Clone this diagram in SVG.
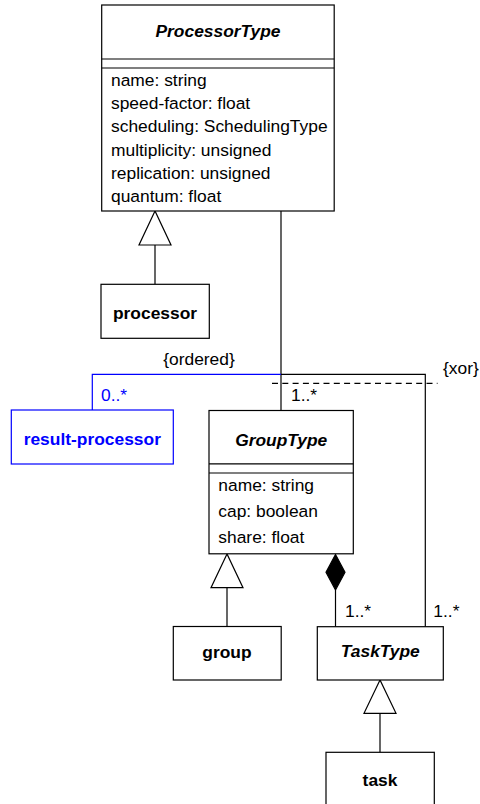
<svg xmlns="http://www.w3.org/2000/svg" width="480" height="804" viewBox="0 0 480 804">
<style>
  .box{fill:#fff;stroke:#000;stroke-width:1.2}
  .bbox{fill:#fff;stroke:#0000ff;stroke-width:1.2}
  .ln{fill:none;stroke:#000;stroke-width:1.2}
  .bln{fill:none;stroke:#0000ff;stroke-width:1.2}
  .dash{fill:none;stroke:#000;stroke-width:1.2;stroke-dasharray:6 4.3}
  .tri{fill:#fff;stroke:#000;stroke-width:1.2}
  .dia{fill:#000;stroke:#000;stroke-width:1.2}
  text{font-family:"Liberation Sans",Arial,sans-serif;font-size:17.4px;fill:#000}
  .title{font-weight:bold;font-style:italic;text-anchor:middle}
  .name{font-weight:bold;text-anchor:middle}
  .blue{fill:#0000ff}
</style>
<rect width="480" height="804" fill="#fff"/>
<g id="connectors">
  <!-- generalization processor -> ProcessorType -->
  <line class="ln" x1="155" y1="245" x2="155" y2="284"/>
  <polygon class="tri" points="155,211 139,245 171,245"/>
  <!-- ProcessorType to GroupType -->
  <line class="ln" x1="281" y1="211" x2="281" y2="410"/>
  <!-- result-processor association -->
  <polyline class="bln" points="281,374.3 92.3,374.3 92.3,410"/>
  <!-- ProcessorType to TaskType -->
  <polyline class="ln" points="281,374.3 425.3,374.3 425.3,626.7"/>
  <!-- xor dashed -->
  <line class="dash" x1="272" y1="383.3" x2="437.5" y2="383.3"/>
  <!-- group generalization -->
  <line class="ln" x1="227" y1="587.7" x2="227" y2="626.5"/>
  <polygon class="tri" points="227,554 211,587.7 243,587.7"/>
  <!-- composition -->
  <line class="ln" x1="335.5" y1="590" x2="335.5" y2="626.7"/>
  <polygon class="dia" points="335.5,554.5 345,572.3 335.5,590 326,572.3"/>
  <!-- task generalization -->
  <line class="ln" x1="380" y1="713.3" x2="380" y2="752.3"/>
  <polygon class="tri" points="380,680 364,713.3 396,713.3"/>
  <!-- labels -->
  <text x="199" y="364.6" text-anchor="middle">{ordered}</text>
  <text x="443" y="373.6">{xor}</text>
  <text class="blue" x="101" y="400.5">0..*</text>
  <text x="291" y="400.5">1..*</text>
  <text x="345" y="616.5">1..*</text>
  <text x="433.3" y="616.5">1..*</text>
</g>
<g id="ProcessorType">
  <rect class="box" x="101.7" y="5" width="232.5" height="206"/>
  <line class="ln" x1="101.7" y1="59" x2="334.2" y2="59"/>
  <line class="ln" x1="101.7" y1="68" x2="334.2" y2="68"/>
  <text class="title" x="218" y="37">ProcessorType</text>
  <text x="111" y="86">name: string</text>
  <text x="111" y="109.2">speed-factor: float</text>
  <text x="111" y="132.4">scheduling: SchedulingType</text>
  <text x="111" y="155.6">multiplicity: unsigned</text>
  <text x="111" y="178.8">replication: unsigned</text>
  <text x="111" y="202">quantum: float</text>
</g>
<g id="processor">
  <rect class="box" x="101" y="284.3" width="108.3" height="54"/>
  <text class="name" x="155" y="319.3">processor</text>
</g>
<g id="result-processor">
  <rect class="bbox" x="11.3" y="410" width="162" height="54"/>
  <text class="name blue" x="92.3" y="445">result-processor</text>
</g>
<g id="GroupType">
  <rect class="box" x="209" y="410.5" width="144.3" height="143.3"/>
  <line class="ln" x1="209" y1="463.8" x2="353.3" y2="463.8"/>
  <line class="ln" x1="209" y1="473" x2="353.3" y2="473"/>
  <text class="title" x="281.2" y="445.7">GroupType</text>
  <text x="218.3" y="490.7">name: string</text>
  <text x="218.3" y="517">cap: boolean</text>
  <text x="218.3" y="543.3">share: float</text>
</g>
<g id="group">
  <rect class="box" x="173.3" y="626.5" width="107.9" height="53.5"/>
  <text class="name" x="227" y="657.8">group</text>
</g>
<g id="TaskType">
  <rect class="box" x="317.3" y="626.7" width="126" height="53.3"/>
  <text class="title" x="380.3" y="657">TaskType</text>
</g>
<g id="task">
  <rect class="box" x="326" y="752.3" width="108.3" height="60"/>
  <text class="name" x="380" y="786">task</text>
</g>
</svg>
